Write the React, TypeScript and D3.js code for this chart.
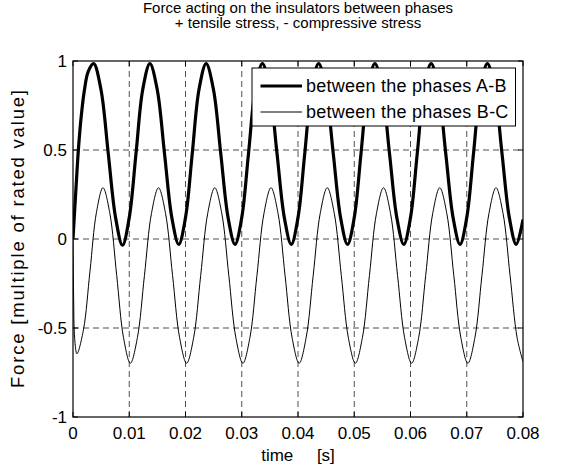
import React from "react";
import * as d3 from "d3";

const titleLines = ["Force acting on the insulators between phases", "+ tensile stress, - compressive stress"];
const xLabel = "time     [s]";
const yLabel = "Force [multiple of rated value]";
const legendLabels = ["between the phases A-B", "between the phases B-C"];

const xTicks = [0, 0.01, 0.02, 0.03, 0.04, 0.05, 0.06, 0.07, 0.08];
const xTickLabels = ["0", "0.01", "0.02", "0.03", "0.04", "0.05", "0.06", "0.07", "0.08"];
const yTicks = [-1, -0.5, 0, 0.5, 1];
const yTickLabels = ["-1", "-0.5", "0", "0.5", "1"];

const timeAB = [
  0, 0.0005, 0.001, 0.0015, 0.002, 0.0027, 0.00367,
  0.00497, 0.00627, 0.00757, 0.0088, 0.0100, 0.0112, 0.0124, 0.01367,
  0.01497, 0.01627, 0.01757, 0.0188, 0.0200, 0.0212, 0.0224, 0.02367,
  0.02497, 0.02627, 0.02757, 0.0288, 0.0300, 0.0312, 0.0324, 0.03367,
  0.03497, 0.03627, 0.03757, 0.0388, 0.0400, 0.0412, 0.0424, 0.04367,
  0.04497, 0.04627, 0.04757, 0.0488, 0.0500, 0.0512, 0.0524, 0.05367,
  0.05497, 0.05627, 0.05757, 0.0588, 0.0600, 0.0612, 0.0624, 0.06367,
  0.06497, 0.06627, 0.06757, 0.0688, 0.0700, 0.0712, 0.0724, 0.07367,
  0.07497, 0.07627, 0.07757, 0.0788, 0.0800,
];
const forceAB = [
  0, 0.27, 0.52, 0.70, 0.83, 0.94, 0.985,
  0.84, 0.48, 0.12, -0.035, 0.12, 0.48, 0.84, 0.985,
  0.84, 0.48, 0.12, -0.03, 0.12, 0.48, 0.84, 0.985,
  0.84, 0.48, 0.12, -0.03, 0.12, 0.48, 0.84, 0.985,
  0.84, 0.48, 0.12, -0.03, 0.12, 0.48, 0.84, 0.985,
  0.84, 0.48, 0.12, -0.03, 0.12, 0.48, 0.84, 0.985,
  0.84, 0.48, 0.12, -0.03, 0.12, 0.48, 0.84, 0.985,
  0.84, 0.48, 0.12, -0.03, 0.12, 0.48, 0.84, 0.985,
  0.84, 0.48, 0.12, -0.03, 0.11,
];

const timeBC = [
  0, 0.0001, 0.0003, 0.0007, 0.00186, 0.00302, 0.00417, 0.00533,
  0.00655, 0.00777, 0.00898, 0.0102, 0.01145, 0.0127, 0.01395, 0.0152,
  0.01645, 0.0177, 0.01895, 0.0202, 0.02145, 0.0227, 0.02395, 0.0252,
  0.02645, 0.0277, 0.02895, 0.0302, 0.03145, 0.0327, 0.03395, 0.0352,
  0.03645, 0.0377, 0.03895, 0.0402, 0.04145, 0.0427, 0.04395, 0.0452,
  0.04645, 0.0477, 0.04895, 0.0502, 0.05145, 0.0527, 0.05395, 0.0552,
  0.05645, 0.0577, 0.05895, 0.0602, 0.06145, 0.0627, 0.06395, 0.0652,
  0.06645, 0.0677, 0.06895, 0.0702, 0.07145, 0.0727, 0.07395, 0.0752,
  0.07645, 0.0777, 0.07895, 0.0800,
];
const forceBC = [
  0, -0.3, -0.56, -0.645, -0.51, -0.18, 0.15, 0.288,
  0.144, -0.205, -0.554, -0.698, -0.554, -0.205, 0.144, 0.288,
  0.144, -0.205, -0.554, -0.698, -0.554, -0.205, 0.144, 0.288,
  0.144, -0.205, -0.554, -0.698, -0.554, -0.205, 0.144, 0.288,
  0.144, -0.205, -0.554, -0.698, -0.554, -0.205, 0.144, 0.288,
  0.144, -0.205, -0.554, -0.698, -0.554, -0.205, 0.144, 0.288,
  0.144, -0.205, -0.554, -0.698, -0.554, -0.205, 0.144, 0.288,
  0.144, -0.205, -0.554, -0.698, -0.554, -0.205, 0.144, 0.288,
  0.144, -0.205, -0.554, -0.69,
];

const W = 574;
const H = 470;
const L = 73;
const R = 523;
const T = 61;
const B = 417;
const FONT = "'Liberation Sans', Arial, Helvetica, sans-serif";

export default function App() {
  const x = d3.scaleLinear().domain([0, 0.08]).range([L, R]);
  const y = d3.scaleLinear().domain([-1, 1]).range([B, T]);
  const line = d3
    .line<[number, number]>()
    .x((d) => x(d[0]))
    .y((d) => y(d[1]))
    .curve(d3.curveCatmullRom.alpha(0.5));
  const dAB = line(timeAB.map((t, i) => [t, forceAB[i]] as [number, number])) || "";
  const dBC = line(timeBC.map((t, i) => [t, forceBC[i]] as [number, number])) || "";
  const tick = 5;
  const cx = (L + R) / 2;

  return (
    <svg
      width={W}
      height={H}
      style={{ position: "absolute", left: 0, top: 0, background: "#fff" }}
      fontFamily={FONT}
    >
      <rect x={0} y={0} width={W} height={H} fill="#fff" />
      <defs>
        <clipPath id="plotclip">
          <rect x={L} y={T} width={R - L} height={B - T} />
        </clipPath>
      </defs>
      <g stroke="#222" strokeWidth={0.8} strokeDasharray="6,4">
        {xTicks.slice(1, -1).map((t) => (
          <line key={"gx" + t} x1={x(t)} x2={x(t)} y1={T} y2={B} />
        ))}
        {yTicks.slice(1, -1).map((t) => (
          <line key={"gy" + t} x1={L} x2={R} y1={y(t)} y2={y(t)} />
        ))}
      </g>
      <g clipPath="url(#plotclip)" fill="none" stroke="#000">
        <path d={dBC} strokeWidth={1} />
        <path d={dAB} strokeWidth={3.2} />
      </g>
      <rect x={L} y={T} width={R - L} height={B - T} fill="none" stroke="#000" strokeWidth={1.2} />
      <g stroke="#000" strokeWidth={1}>
        {xTicks.map((t) => (
          <g key={"tx" + t}>
            <line x1={x(t)} x2={x(t)} y1={B} y2={B - tick} />
            <line x1={x(t)} x2={x(t)} y1={T} y2={T + tick} />
          </g>
        ))}
        {yTicks.map((t) => (
          <g key={"ty" + t}>
            <line x1={L} x2={L + tick} y1={y(t)} y2={y(t)} />
            <line x1={R} x2={R - tick} y1={y(t)} y2={y(t)} />
          </g>
        ))}
      </g>
      <g fontSize={17} fill="#000">
        {xTicks.map((t, i) => (
          <text key={"lx" + t} x={x(t)} y={439} textAnchor="middle">
            {xTickLabels[i]}
          </text>
        ))}
        {yTicks.map((t, i) => (
          <text key={"ly" + t} x={67} y={y(t) + 6} textAnchor="end">
            {yTickLabels[i]}
          </text>
        ))}
      </g>
      <text x={cx} y={461} textAnchor="middle" fontSize={17} style={{ whiteSpace: "pre" }}>
        {xLabel}
      </text>
      <text
        transform={`translate(24,${(T + B) / 2}) rotate(-90)`}
        textAnchor="middle"
        fontSize={18.5}
        textLength={298}
        lengthAdjust="spacing"
      >
        {yLabel}
      </text>
      <g fontSize={15} textAnchor="middle">
        <text x={cx} y={12.5}>{titleLines[0]}</text>
        <text x={cx} y={28}>{titleLines[1]}</text>
      </g>
      <g>
        <rect x={252} y={68} width={263.5} height={58} fill="#fff" stroke="#000" strokeWidth={1} />
        <line x1={260.5} x2={302} y1={86} y2={86} stroke="#000" strokeWidth={3.2} />
        <line x1={260.5} x2={302} y1={112} y2={112} stroke="#000" strokeWidth={1} />
        <text x={306} y={91.5} fontSize={18} letterSpacing={0.25}>{legendLabels[0]}</text>
        <text x={306} y={117.5} fontSize={18} letterSpacing={0.25}>{legendLabels[1]}</text>
      </g>
    </svg>
  );
}
